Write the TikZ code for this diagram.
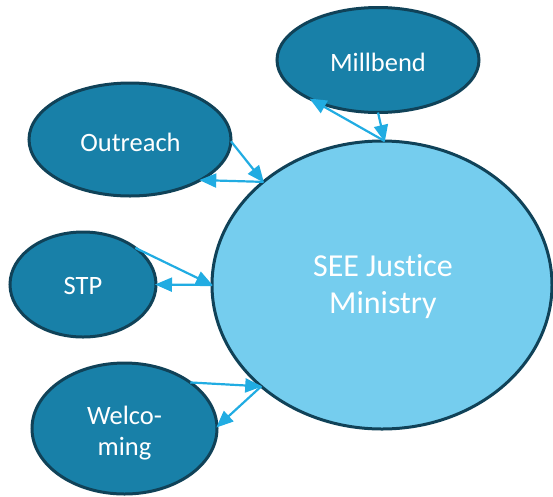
\documentclass[tikz,border=0pt]{standalone}
\usepackage{fontspec}
\setmainfont{Carlito}[Ligatures=NoCommon]
\usetikzlibrary{shapes.geometric,arrows.meta}
\definecolor{darkfill}{RGB}{24,128,168}
\definecolor{darkline}{RGB}{16,66,88}
\definecolor{bigfill}{RGB}{117,205,238}
\definecolor{arrowc}{RGB}{33,172,226}
\tikzset{
  small/.style={ellipse, draw=darkline, line width=3pt, fill=darkfill, inner sep=0pt, outer sep=0pt},
  big/.style={ellipse, draw=darkline, line width=3pt, fill=bigfill, inner sep=0pt, outer sep=0pt},
  label/.style={text=white, align=center, font=\fontsize{26.5}{31}\selectfont},
  conn/.style={draw=arrowc, line width=2.2pt, -{Triangle[length=17pt,width=14pt]}, shorten >=-1pt}
}
\begin{document}
\begin{tikzpicture}[x=1pt,y=-1pt]
\useasboundingbox (0,0) rectangle (553,496);
\node[big, minimum width=340pt, minimum height=288pt] (see) at (382,285) {};
\node[label, font=\fontsize{32}{37}\selectfont] (seet) at (383,287) {SEE Justice\\Ministry};
\node[small, minimum width=202pt, minimum height=105pt] (mill) at (378,60) {};
\node[label] (millt) at (378,62) {Millbend};
\node[small, minimum width=202pt, minimum height=113pt] (out) at (130,139.5) {};
\node[label] (outt) at (130.5,142) {Outreach};
\node[small, minimum width=146pt, minimum height=105pt] (stp) at (83,284.5) {};
\node[label] (stpt) at (83,286) {STP};
\node[small, minimum width=185pt, minimum height=131pt] (wel) at (124.5,428.5) {};
\node[label] (welt) at (124.5,433) {Welco-\\ming};
% Outreach
\draw[conn] (out.-1) -- (see.139.6);
\draw[conn] (see.139.6) -- (out.-30);
% STP
\draw[conn] (stp.35) -- (see.180);
\draw[conn] (see.180) -- (stp.0);
% Welcoming
\draw[conn] (wel.35) -- (see.220.6);
\draw[conn] (see.220.6) -- (wel.1);
% Millbend
\draw[conn] (mill.-90) -- (see.89.5);
\draw[conn] (see.89.5) -- (mill.210.8);
\end{tikzpicture}
\end{document}
